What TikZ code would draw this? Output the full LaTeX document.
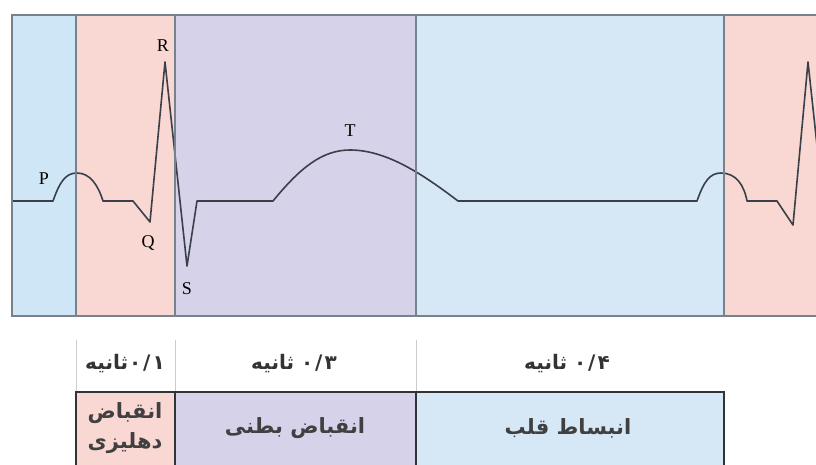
\documentclass[tikz,border=0pt]{standalone}
\usepackage{fontspec}
\setmainfont{Liberation Serif}
\newfontfamily\arabicfont[Script=Arabic]{DejaVu Sans}
\TeXXeTstate=1
\definecolor{cblue}{HTML}{CFE6F7}
\definecolor{cpink}{HTML}{F9D7D3}
\definecolor{clav}{HTML}{D5D2EA}
\definecolor{cblue2}{HTML}{D6E7F6}
\definecolor{cgrid}{HTML}{76828D}
\definecolor{ctrace}{HTML}{3A3F4A}
\definecolor{cbox}{HTML}{2F3439}
\newcommand{\pnum}[2]{#1\hspace{2pt}/\hspace{2pt}#2}
\tikzset{
  panelline/.style={draw=cgrid, line width=1.6pt},
  trace/.style={draw=ctrace, line width=1.6pt, line join=round},
  wavelbl/.style={font=\fontsize{18}{18}\selectfont, inner sep=0pt},
  timelbl/.style={font=\arabicfont\bfseries\fontsize{20}{20}\selectfont, inner sep=0pt, text=black!80},
  phaselbl/.style={font=\arabicfont\bfseries\fontsize{21}{30}\selectfont, inner sep=0pt, align=center, text=black!75},
  phasebox/.style={draw=cbox, line width=2.2pt},
  thinsep/.style={draw=black!20, line width=0.8pt}
}
\begin{document}
\begin{tikzpicture}[x=1pt,y=-1pt]
\useasboundingbox (0,0) rectangle (816,464);
\fill[white] (0,0) rectangle (816,464);
% panel regions
\fill[cblue]  (12,15) rectangle (76,316);
\fill[cpink]  (76,15) rectangle (175,316);
\fill[clav]   (175,15) rectangle (416,316);
\fill[cblue2] (416,15) rectangle (724,316);
\fill[cpink]  (724,15) rectangle (816,316);
% ECG trace
\begin{scope}
\clip (12,15) rectangle (816,316);
\draw[trace] (12,201) -- (53,201)
  .. controls (60,181) and (66,173) .. (77,173)
  .. controls (90,173) and (98,185) .. (103,201)
  -- (133,201) -- (150,222) -- (165,62) -- (187,266) -- (197,201) -- (273,201)
  .. controls (300,168) and (322,150) .. (350,150)
  .. controls (385,150) and (420,172) .. (458,201)
  -- (697,201)
  .. controls (704,181) and (710,173) .. (721,173)
  .. controls (736,173) and (744,185) .. (747,201)
  -- (777,201) -- (793,225) -- (808,62) -- (830,266);
\end{scope}
% panel lines
\draw[panelline] (816,15) -- (12,15) -- (12,316) -- (816,316);
\draw[panelline] (76,15) -- (76,316);
\draw[panelline] (175,15) -- (175,316);
\draw[panelline] (416,15) -- (416,316);
\draw[panelline] (724,15) -- (724,316);
% wave labels
\node[wavelbl] (P) at (44,179) {P};
\node[wavelbl] (R) at (163,46) {R};
\node[wavelbl] (Q) at (148,243) {Q};
\node[wavelbl] (S) at (187,289) {S};
\node[wavelbl] (T) at (350,131) {T};
% time row separators
\draw[thinsep] (76,340) -- (76,392);
\draw[thinsep] (175,340) -- (175,392);
\draw[thinsep] (416,340) -- (416,392);
\node[timelbl] (t1) at (125,364) {\beginR ثانیه\endR\hspace{1pt}\pnum{۰}{۱}};
\node[timelbl] (t2) at (294,364) {\beginR ثانیه\endR\hspace{7pt}\pnum{۰}{۳}};
\node[timelbl] (t3) at (567,364) {\beginR ثانیه\endR\hspace{7pt}\pnum{۰}{۴}};
% phase boxes
\fill[cpink] (76,392) rectangle (175,470);
\fill[clav]  (175,392) rectangle (416,470);
\fill[cblue2] (416,392) rectangle (724,470);
\draw[phasebox] (76,470) -- (76,392) -- (724,392) -- (724,470);
\draw[phasebox] (175,392) -- (175,470);
\draw[phasebox] (416,392) -- (416,470);
\node[phaselbl] (b1) at (125,428) {\beginR انقباض\endR\\\beginR دهلیزی\endR};
\node[phaselbl] (b2) at (295,428) {\beginR انقباض بطنی\endR};
\node[phaselbl] (b3) at (568,428) {\beginR انبساط قلب\endR};
\end{tikzpicture}
\end{document}
